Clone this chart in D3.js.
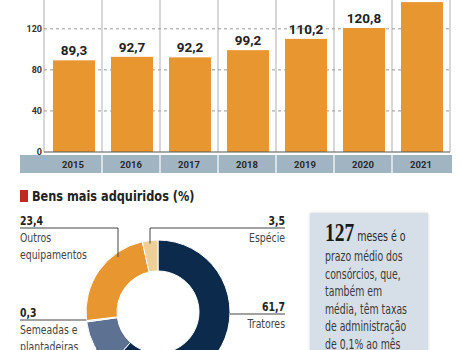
<!DOCTYPE html>
<html>
<head>
<meta charset="utf-8">
<script src="https://cdn.jsdelivr.net/npm/d3@7/dist/d3.min.js"></script>
<style>
  body { margin: 0; background: #fff; }
  svg { display: block; }
  .cond { font-family: "DejaVu Sans Condensed", "DejaVu Sans", sans-serif; }
</style>
</head>
<body>
<svg id="chart" width="463" height="350"></svg>
<script>
// annual values (bar chart)
const years = ["2015", "2016", "2017", "2018", "2019", "2020", "2021"];
const values = [89.3, 92.7, 92.2, 99.2, 110.2, 120.8, 146];
const valueLabels = ["89,3", "92,7", "92,2", "99,2", "110,2", "120,8", "146,0"];
const yTicks = [0, 40, 80, 120];

// Bens mais adquiridos (%)
const goods = ["Tratores", "Colheitadeiras", "Semeadas e plantadeiras", "Outros equipamentos", "Espécie"];
const shares = [61.7, 11.1, 0.3, 23.4, 3.5];
const shareLabels = ["61,7", "11,1", "0,3", "23,4", "3,5"];
const goodsColors = ["#0b2a4c", "#5d7292", "#c9d3dd", "#e8962f", "#efcf98"];

const svg = d3.select("#chart");
const font = "Roboto, 'DejaVu Sans', sans-serif";

// narrow text: the print face is condensed, squeeze horizontally
function narrow(parent, x, y, anchor, sx) {
  return parent.append("g")
    .attr("transform", `translate(${x},${y}) scale(${sx},1)`)
    .append("text")
    .attr("class", "cond")
    .attr("text-anchor", anchor);
}

// ---------- bar chart ----------
const x = d3.scaleBand()
  .domain(years)
  .range([44, 450])
  .paddingInner(0)
  .paddingOuter(0);

const y = d3.scaleLinear()
  .domain([0, 120])
  .range([152, 28.8]);

// category strip
svg.append("rect")
  .attr("x", 20).attr("y", 155)
  .attr("width", 432).attr("height", 18)
  .attr("fill", "#a1b4c2");

// vertical separators
const seps = years.map(d => x(d)).concat([x.range()[1]]);
svg.append("g").selectAll("line")
  .data(seps)
  .join("line")
  .attr("x1", d => d).attr("x2", d => d)
  .attr("y1", 0).attr("y2", y(0))
  .attr("stroke", "#bdbdbd").attr("stroke-width", 1.2);

svg.append("g").selectAll("line")
  .data(seps.slice(1, -1))
  .join("line")
  .attr("x1", d => d).attr("x2", d => d)
  .attr("y1", 155).attr("y2", 173)
  .attr("stroke", "#fff").attr("stroke-width", 1.2);

// gridlines
svg.append("g").selectAll("line")
  .data(yTicks.filter(t => t > 0))
  .join("line")
  .attr("x1", 44).attr("x2", 450)
  .attr("y1", d => y(d)).attr("y2", d => y(d))
  .attr("stroke", "#9a9a9a")
  .attr("stroke-dasharray", "3,3");

// y tick labels
svg.append("g").selectAll("text")
  .data(yTicks)
  .join("text")
  .attr("x", 42)
  .attr("y", d => y(d) + 3)
  .attr("text-anchor", "end")
  .attr("font-family", font)
  .attr("font-weight", "bold")
  .attr("font-size", "9px")
  .attr("fill", "#333")
  .text(d => d);

// bars
svg.append("g").selectAll("rect")
  .data(values)
  .join("rect")
  .attr("x", (d, i) => x(years[i]) + 9)
  .attr("width", x.bandwidth() - 16)
  .attr("y", d => y(d))
  .attr("height", d => y(0) - y(d))
  .attr("fill", "#e8962f");

// baseline
svg.append("line")
  .attr("x1", 44).attr("x2", 450)
  .attr("y1", y(0)).attr("y2", y(0))
  .attr("stroke", "#555").attr("stroke-width", 1.2);

// value labels (the 2021 one falls above the crop)
svg.append("g").selectAll("text")
  .data(values.map((v, i) => ({ v, i })).filter(d => y(d.v) - 5 > 10))
  .join("text")
  .attr("x", d => x(years[d.i]) + x.bandwidth() / 2 + 1)
  .attr("y", d => y(d.v) - 5)
  .attr("text-anchor", "middle")
  .attr("font-family", font)
  .attr("font-weight", "bold")
  .attr("font-size", "13.5px")
  .attr("fill", "#222")
  .text(d => valueLabels[d.i]);

// year labels
svg.append("g").selectAll("text")
  .data(years)
  .join("text")
  .attr("x", d => x(d) + x.bandwidth() / 2)
  .attr("y", 167.5)
  .attr("text-anchor", "middle")
  .attr("font-family", font)
  .attr("font-weight", "bold")
  .attr("font-size", "9.5px")
  .attr("fill", "#2a2a2a")
  .text(d => d);

// ---------- donut ----------
svg.append("rect")
  .attr("x", 20).attr("y", 190)
  .attr("width", 8).attr("height", 12)
  .attr("fill", "#c0291f");

narrow(svg, 32, 200.5, "start", 0.9)
  .attr("font-weight", "bold")
  .attr("font-size", "14px")
  .attr("fill", "#222")
  .text("Bens mais adquiridos (%)");

const cx = 158, cy = 312, R = 72, r = 41;
const pie = d3.pie().sort(null).value(d => d);
const arc = d3.arc().innerRadius(r).outerRadius(R);

svg.append("g")
  .attr("transform", `translate(${cx},${cy})`)
  .selectAll("path")
  .data(pie(shares))
  .join("path")
  .attr("d", arc)
  .attr("fill", (d, i) => goodsColors[i])
  .attr("stroke", "#fff")
  .attr("stroke-width", 1);

// leader lines and labels
const edgeY = lx => cy - Math.sqrt(R * R - (lx - cx) * (lx - cx));
const edgeX = (ly, side) => cx + side * Math.sqrt(R * R - (ly - cy) * (ly - cy));

const callouts = [
  { i: 3, anchor: "start", tx: 20, ty: 225, path: () => `M20,228H118V${edgeY(118) + 5}`, lines: ["Outros", "equipamentos"] },
  { i: 4, anchor: "end", tx: 285, ty: 225, path: () => `M285,228H150V${edgeY(150) + 3}`, lines: ["Espécie"] },
  { i: 0, anchor: "end", tx: 285, ty: 311, path: () => `M285,314H${edgeX(314, 1)}`, lines: ["Tratores"] },
  { i: 2, anchor: "start", tx: 20, ty: 317, path: () => `M20,320H${edgeX(320, -1)}`, lines: ["Semeadas e", "plantadeiras"] }
];

const cg = svg.append("g");
callouts.forEach(c => {
  cg.append("path")
    .attr("d", c.path())
    .attr("fill", "none")
    .attr("stroke", "#444")
    .attr("stroke-width", 1);
  narrow(cg, c.tx, c.ty, c.anchor, 0.8)
    .attr("font-weight", "bold")
    .attr("font-size", "13px")
    .attr("fill", "#222")
    .text(shareLabels[c.i]);
  c.lines.forEach((t, k) => {
    narrow(cg, c.tx, c.ty + 17 + k * 16.5, c.anchor, 0.8)
      .attr("font-size", "13px")
      .attr("fill", "#444")
      .text(t);
  });
});

// leader for the slice below the crop
cg.append("line")
  .attr("x1", 97).attr("x2", 97)
  .attr("y1", 348).attr("y2", 360)
  .attr("stroke", "#444");

// ---------- text box ----------
const defs = svg.append("defs");
const f = defs.append("filter").attr("id", "sh").attr("x", "-10%").attr("y", "-10%").attr("width", "120%").attr("height", "120%");
f.append("feDropShadow").attr("dx", 0).attr("dy", 0).attr("stdDeviation", 1.5).attr("flood-color", "#000").attr("flood-opacity", 0.18);

svg.append("rect")
  .attr("x", 310).attr("y", 213)
  .attr("width", 118).attr("height", 160)
  .attr("fill", "#d6dfe7")
  .attr("filter", "url(#sh)");

const t0 = narrow(svg, 325, 241, "start", 0.78)
  .attr("fill", "#2b2b2b")
  .attr("font-size", "13.5px");
t0.append("tspan")
  .attr("font-family", "'Liberation Serif', 'DejaVu Serif', serif")
  .attr("font-weight", "bold")
  .attr("font-size", "25px")
  .attr("fill", "#1a1a1a")
  .text("127");
t0.append("tspan").text(" meses é o");

const boxLines = ["prazo médio dos", "consórcios, que,", "também em", "média, têm taxas", "de administração", "de 0,1% ao mês"];
boxLines.forEach((d, i) => {
  narrow(svg, 325, 261 + i * 17.6, "start", 0.77)
    .attr("font-size", "13.5px")
    .attr("fill", "#3a3a3a")
    .text(d);
});
</script>
</body>
</html>
